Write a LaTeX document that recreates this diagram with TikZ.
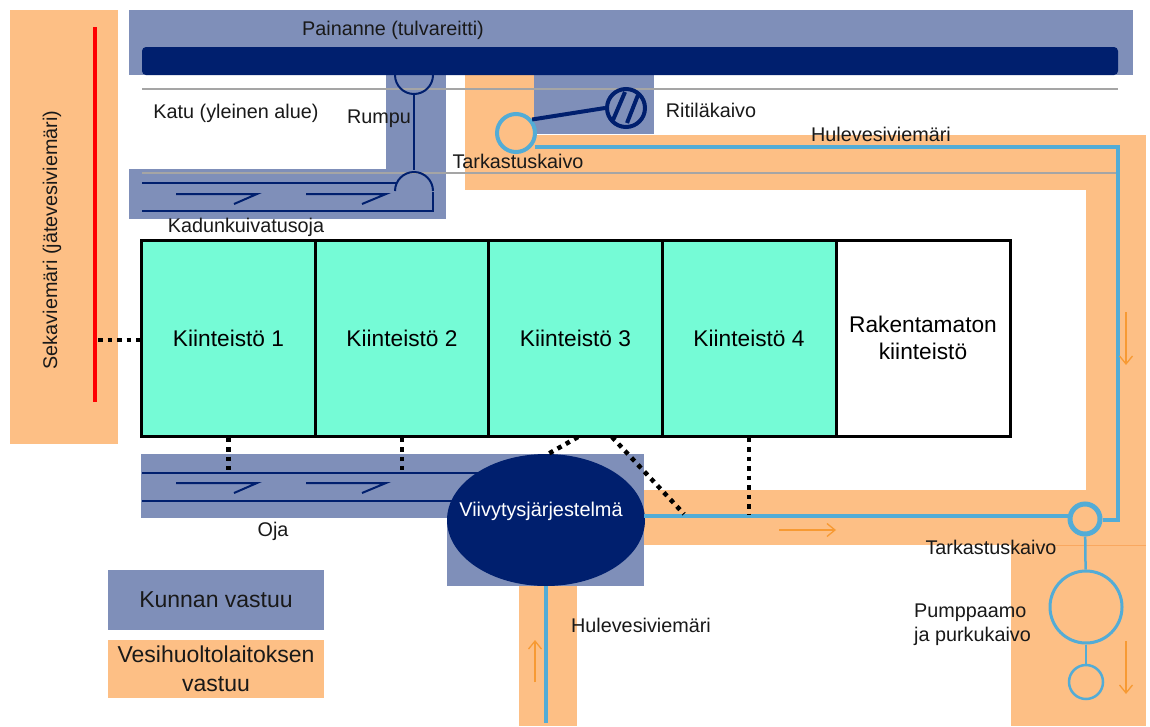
\documentclass[tikz,border=0pt]{standalone}
\usepackage{fontspec}
\setmainfont{Liberation Sans}
\definecolor{munblue}{HTML}{7F8FB9}
\definecolor{wuorange}{HTML}{FDBF85}
\definecolor{darkblue}{HTML}{001F6E}
\definecolor{pipeblue}{HTML}{53ACD6}
\definecolor{plotgreen}{HTML}{75FBD6}
\definecolor{roadgrey}{HTML}{A5A5A5}
\definecolor{flow}{HTML}{F79A33}
\definecolor{edgeorange}{HTML}{F9A860}
\usetikzlibrary{arrows.meta,shapes.geometric}
\tikzset{
  area/.style={draw=none},
  munarea/.style={area,fill=munblue},
  wuarea/.style={area,fill=wuorange},
  plot/.style={draw=black,line width=3pt,fill=plotgreen,minimum width=174pt,minimum height=196pt,inner sep=0pt,align=center,font=\fontsize{22.7}{27.5}\selectfont},
  lbl/.style={inner sep=0pt,align=left,font=\fontsize{19.8}{24}\selectfont,text=black!90},
  road/.style={draw=roadgrey,line width=2.5pt},
  dtch/.style={draw=darkblue,line width=2pt},
  plink/.style={draw=black,line width=4.5pt,dash pattern=on 4.5pt off 5pt},
  pipe/.style={draw=pipeblue,line width=4.5pt},
  thinpipe/.style={draw=pipeblue,line width=2.5pt},
  flowarrow/.style={draw=flow,line width=1.3pt,-{Straight Barb[length=8pt,width=13pt,line width=1.3pt]}},
  halfarrow/.style={draw=darkblue,line width=2pt},
  well/.style={circle,draw=pipeblue,inner sep=0pt,fill=wuorange},
  legendbox/.style={inner sep=0pt,align=center,minimum width=216pt,font=\fontsize{23}{29}\selectfont,text=black!90}
}
\begin{document}
\begin{tikzpicture}[x=1pt,y=-1pt]
\useasboundingbox (0,0) rectangle (1150,726);
\fill[white] (0,0) rectangle (1150,726);
% responsibility areas
\fill[wuarea] (10,10) rectangle (118,444);
\fill[wuarea] (465,75) rectangle (534,135);
\fill[wuarea] (465,135) rectangle (1146,190);
\fill[wuarea] (1086,135) rectangle (1146,545);
\fill[wuarea] (644,490) rectangle (1146,545);
\fill[wuarea] (1011,545) rectangle (1146,726);
\fill[wuarea] (519,586) rectangle (577,726);
\draw[edgeorange,line width=.6pt] (1011,545.5) -- (1146,545.5);
\fill[munblue] (129,10) rectangle (1133,75);
\fill[munblue] (386,75) rectangle (446,219);
\fill[munblue] (129,169) rectangle (446,219);
\fill[munblue] (534,75) rectangle (654,134);
\fill[munblue] (141,454) rectangle (644,518);
\fill[munblue] (447,454) rectangle (644,586);
\fill[darkblue,rounded corners=4pt] (142,47) rectangle (1118,75);
% roads
\draw[road] (142,89) -- (1118,89);
\draw[road] (142,173) -- (1118,173);
% sewer
\draw[red,line width=4pt] (95,27) -- (95,402);
\coordinate (sewer) at (98,340);
% culvert
\coordinate (culvT) at (414,95);
\coordinate (culvB) at (414,170);
\draw[dtch] (395,75) arc[start angle=180,end angle=0,radius=19];
\draw[dtch] (culvT) -- (culvB);
\draw[dtch] (395,191) arc[start angle=180,end angle=360,radius=19];
\draw[dtch] (142,183) -- (397,183);
\draw[dtch] (142,211) -- (433,211) -- (433,192);
\draw[halfarrow] (176,194) -- (257,194) -- (234,204);
\draw[halfarrow] (306,194) -- (386,194) -- (362,204);
% ditch
\draw[dtch] (142,473) -- (490,473);
\draw[dtch] (142,501) -- (490,501);
\draw[halfarrow] (176,483) -- (257,483) -- (234,493);
\draw[halfarrow] (306,483) -- (386,483) -- (362,493);
% plots
\node[plot] (k1) at (228.5,338) {\raisebox{-3pt}{Kiinteistö 1}};
\node[plot] (k2) at (402,338) {\raisebox{-3pt}{Kiinteistö 2}};
\node[plot] (k3) at (575.5,338) {\raisebox{-3pt}{Kiinteistö 3}};
\node[plot] (k4) at (749,338) {\raisebox{-3pt}{Kiinteistö 4}};
\node[plot,fill=white] (k5) at (923,338) {Rakentamaton\\kiinteistö};
% retention
\node[ellipse,fill=darkblue,minimum width=198pt,minimum height=132pt,inner sep=0pt] (vv) at (546,520) {};
\node[inner sep=0pt,text=white,font=\fontsize{19.9}{24}\selectfont] (vvt) at (541,511) {Viivytysjärjestelmä};
% stormwater pipes
\node[well,line width=4pt,minimum size=38pt] (tk1) at (516,133) {};
\node[well,line width=5pt,minimum size=30pt] (tk2) at (1085,519) {};
\node[well,line width=3pt,minimum size=72pt] (pump) at (1086,607) {};
\node[well,line width=2.5pt,minimum size=34pt] (purku) at (1086,682) {};
\node[circle,draw=darkblue,line width=4pt,fill=munblue,minimum size=38pt,inner sep=0pt] (rit) at (626,108) {};
\draw[darkblue,line width=4pt] (613,120) -- (625,92) (627,123) -- (638,95);
\draw[darkblue,line width=4pt] (tk1.40) -- (rit.west);
\coordinate (ptB) at (535,147);
\coordinate (ptC) at (1118,147);
\coordinate (ptF) at (1118,520);
\coordinate (ptA) at (644,516);
\coordinate (ptD) at (546,586);
\coordinate (ptE) at (546,723);
\draw[pipe,line join=miter] (ptB) -- (ptC) -- (ptF) -- (ptF -| tk2.east);
\draw[pipe] (ptA) -- (ptA -| tk2.west);
\draw[pipe] (ptD) -- (ptE);
\draw[thinpipe] (tk2) -- (pump);
\draw[thinpipe] (pump) -- (purku);
% connections
\draw[plink] (sewer) -- (sewer -| k1.west);
\coordinate (d1) at (228,470);
\coordinate (d2) at (402,470);
\coordinate (d4) at (749,514);
\coordinate (d3a) at (578,437);
\coordinate (d3b) at (548,454);
\coordinate (d3c) at (612,437);
\coordinate (d3d) at (684,514);
\draw[plink] (k1.south) -- (d1 -| k1.south);
\draw[plink] (k2.south) -- (d2);
\draw[plink] (d3a) -- (d3b);
\draw[plink] (d3c) -- (d3d);
\draw[plink] (k4.south) -- (d4);
% flow arrows
\coordinate (f1a) at (779,530); \coordinate (f1b) at (836,530);
\coordinate (f2a) at (1126,312); \coordinate (f2b) at (1126,365);
\coordinate (f3a) at (1126,641); \coordinate (f3b) at (1126,694);
\coordinate (f4a) at (535,682); \coordinate (f4b) at (535,640);
\draw[flowarrow] (f1a) -- (f1b);
\draw[flowarrow] (f2a) -- (f2b);
\draw[flowarrow] (f3a) -- (f3b);
\draw[flowarrow] (f4a) -- (f4b);
% labels
\node[lbl,rotate=90] (l1) at (52,240) {Sekaviemäri (jätevesiviemäri)};
\node[lbl] (l2) at (393,30) {Painanne (tulvareitti)};
\node[lbl] (l3) at (236,113) {Katu (yleinen alue)};
\node[lbl] (l4) at (379,119) {Rumpu};
\node[lbl] (l5) at (246,227) {Kadunkuivatusoja};
\node[lbl] (l6) at (518,161) {Tarkastuskaivo};
\node[lbl] (l7) at (711,110) {Ritiläkaivo};
\node[lbl] (l8) at (881,134) {Hulevesiviemäri};
\node[lbl] (l9) at (273,531) {Oja};
\node[lbl] (l10) at (991,547) {Tarkastuskaivo};
\node[lbl] (l11) at (641,625) {Hulevesiviemäri};
\node[lbl,anchor=west] (l12) at (914,625) {Pumppaamo\\ja purkukaivo};
% legend
\node[legendbox,fill=munblue,minimum height=60pt] (lg1) at (216,600) {Kunnan vastuu};
\node[legendbox,fill=wuorange,minimum height=58pt] (lg2) at (216,669) {Vesihuoltolaitoksen\\vastuu};
\end{tikzpicture}
\end{document}
